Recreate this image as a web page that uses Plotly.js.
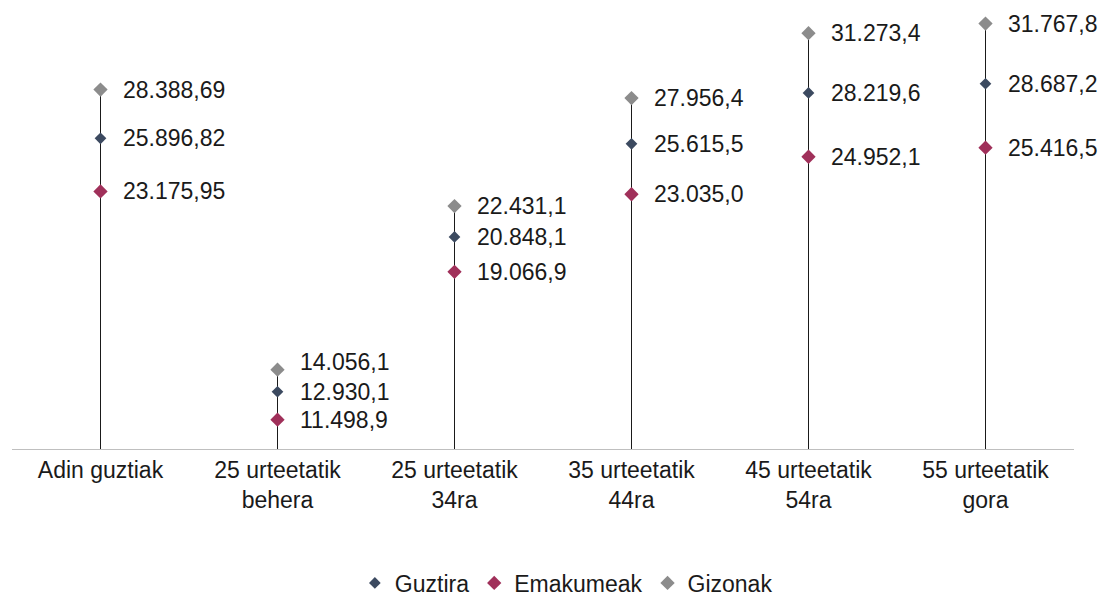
<!DOCTYPE html>
<html>
<head>
<meta charset="utf-8">
<script src="https://cdn.plot.ly/plotly-3.0.1.min.js"></script>
<style>html,body{margin:0;padding:0;background:#fff;}#chart{width:1107px;height:597px;}</style>
</head>
<body>
<div id="chart"></div>
<script>
var categories = ["Adin guztiak", "25 urteetatik<br>behera", "25 urteetatik<br>34ra", "35 urteetatik<br>44ra", "45 urteetatik<br>54ra", "55 urteetatik<br>gora"];
var guztira = [25896.82, 12930.1, 20848.1, 25615.5, 28219.6, 28687.2];
var emakumeak = [23175.95, 11498.9, 19066.9, 23035.0, 24952.1, 25416.5];
var gizonak = [28388.69, 14056.1, 22431.1, 27956.4, 31273.4, 31767.8];
var decimals = [2, 1, 1, 1, 1, 1];
var seriesNames = ["Guztira", "Emakumeak", "Gizonak"];
var seriesColors = ["#3c4a60", "#a0305a", "#8c8c8c"];
var axisMin = 10000, axisMax = 32000;

function fmt(v, d) {
  var s = v.toFixed(d).split('.');
  var intPart = s[0].replace(/\B(?=(\d{3})+(?!\d))/g, '.');
  return intPart + (s.length > 1 ? ',' + s[1] : '');
}

var FONT = 'Liberation Sans, Arial, sans-serif';
var PLOT_H = 430;
var lineX = [], lineY = [];
categories.forEach(function (c, i) {
  var top = Math.max(guztira[i], emakumeak[i], gizonak[i]);
  lineX.push(c, c, null);
  lineY.push(axisMin, top, null);
});

var traces = [{
  x: lineX, y: lineY, mode: 'lines', line: {color: '#1a1a1a', width: 1},
  showlegend: false, hoverinfo: 'skip', type: 'scatter', cliponaxis: false
}];
var allSeries = [guztira, emakumeak, gizonak];
var sizes = [9, 11, 11];
allSeries.forEach(function (vals, k) {
  traces.push({
    x: categories, y: vals, mode: 'markers', name: seriesNames[k], cliponaxis: false,
    marker: {symbol: 'diamond', size: sizes[k], color: seriesColors[k]}, type: 'scatter'
  });
});

// value labels, placed to the right of each marker; nudge up a label that would collide with the one below
var annotations = [];
categories.forEach(function (c, i) {
  var vals = allSeries.map(function (s) { return s[i]; });
  var order = vals.map(function (v, k) { return k; }).sort(function (a, b) { return vals[a] - vals[b]; });
  var prevPix = null, prevShift = 0;
  order.forEach(function (k) {
    var pix = (vals[k] - axisMin) / (axisMax - axisMin) * PLOT_H;
    var shift = 0;
    if (prevPix !== null && (pix - (prevPix + prevShift)) < 25) shift = 8;
    annotations.push({
      x: c, y: vals[k], xref: 'x', yref: 'y', text: fmt(vals[k], decimals[i]),
      showarrow: false, xanchor: 'left', yanchor: 'middle', xshift: 20, yshift: shift,
      font: {family: FONT, size: 23, color: '#1a1a1a'}
    });
    prevPix = pix; prevShift = shift;
  });
});

var layout = {
  width: 1107, height: 597,
  margin: {l: 12, r: 33, t: 19, b: 148, autoexpand: false},
  paper_bgcolor: '#fff', plot_bgcolor: '#fff',
  showlegend: true,
  annotations: annotations,
  legend: {orientation: 'h', x: 0.522, xanchor: 'center', y: -0.3116, yanchor: 'middle',
    font: {family: FONT, size: 23, color: '#1a1a1a'}, itemwidth: 30},
  xaxis: {type: 'category', range: [-0.5, 5.5], showgrid: false, zeroline: false, showline: true, linecolor: '#bfbfbf', linewidth: 1,
    ticks: '', tickfont: {family: FONT, size: 23, color: '#1a1a1a'}, fixedrange: true},
  yaxis: {range: [axisMin, axisMax], visible: false, showgrid: false, zeroline: false, fixedrange: true}
};
Plotly.newPlot('chart', traces, layout, {displayModeBar: false, staticPlot: true});
</script>
</body>
</html>
